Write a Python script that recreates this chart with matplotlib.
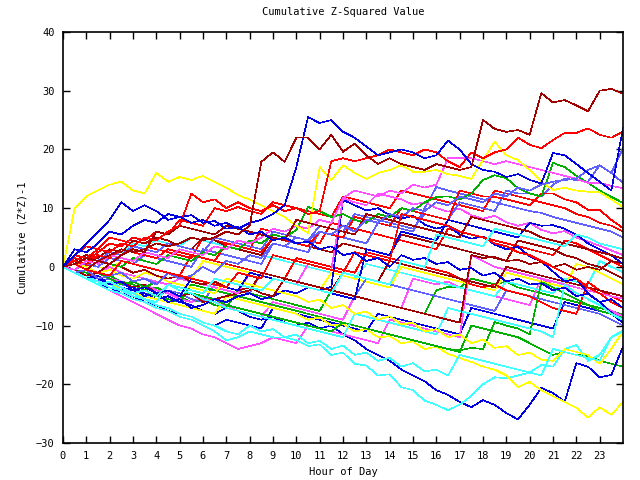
import numpy as np
import matplotlib
matplotlib.use("Agg")
import matplotlib.pyplot as plt

# colours (gnuplot-like palette)
RED = "#ff0000"; DRED = "#a00000"; GRN = "#00b000"; BLU = "#0000e0"
SLB = "#6060ff"; MAG = "#ff50ff"; CYN = "#40ffff"; YEL = "#ffff00"

# each series: cumulative value sampled every half hour, hour 0 .. 24
A = [0,0.5,1.5,1,2,3,2.5,3,4,3.5,4,5,4.5,5,6,5.5,7,17.9,19.5,17.9,22,22,20,22.5,19.6,21,19,17.5,18.5,17.5,17,16.5,17.5,17,16.5,17,25,23.5,23,23.3,22.5,29.6,28,28.4,27.5,26.5,30,30.3,29.5]
B = [0,2,4,6,8,11,9.5,10.5,9.5,8,8.5,7.5,8,7,7.5,6.5,7.5,8,9,10.5,17,25.5,24.5,25,23,22,20.5,19,19.5,20,19.5,18.5,19,21.5,20,17.5,16.5,16.2,15.3,15.8,14.8,14.2,19.4,19,17.5,16,14.5,13,23.6]
D = [0,2,1.5,3,2.5,4,3.5,5,4.5,6,7,12.5,11,11.5,10,11,10,9.5,10.5,9.5,10,9,9.5,18,18.5,18,18.5,19,20,19.5,19,20,19.5,18,17,19.5,18.5,19.5,20,22,20.8,20.2,21.6,22.8,22.8,23.6,22.5,22,23]
Y1 = [0,10,12,13,14,14.5,13,12.5,16,14.5,15.3,14.8,15.5,14.5,13.5,12.2,11.5,10.5,9.5,8.5,7,5.8,17,14.8,17.3,16,15,16,16.5,17.3,16.2,16.2,16.5,15.8,15.5,15,18.2,21.3,19,18.2,16.5,14.5,13.1,13.5,13,12.8,12.7,11.5,10.2]
M1 = [0,-0.5,1,0.5,2,1.5,1,2.5,2,1.5,3,2.5,2,3.5,3,4.5,4,5,6.5,6,7,6.5,8,7.5,11.7,13,12.5,12,13,12.5,14,13.5,14,18.5,18.5,18.5,18,17.5,18,17.5,17,16.5,16,15.5,15,14.3,14.3,13.8,13.4]
G1 = [0,0.5,-0.5,1,0.5,0,1.5,1,0.5,2,1.5,1,2.5,2,3.5,3,4.5,4,5.5,5,6.3,10.2,9.5,8.5,9,8,7.5,9,8.5,10,9.5,11,11.9,12,11.5,12.5,14.8,15.6,15.1,13.4,12.5,12,17.7,17,15.5,14.3,13,11.9,10.9]
S1 = [0,-1,-0.5,-2,-1.5,-1,-2.5,-2,-3,-1,-2,-1.5,0,-1,1,0.5,2,1.5,4,3.5,5,4.5,6,5.5,7,6,8,7.5,9,8.5,10,9.5,11,10.5,12,11.5,11,12.5,12,13.5,13,14,14.5,14.8,15,16.5,17.3,16,20.2]
R3 = [0,1,0.5,2,1.5,3,2.5,2,1.5,3,2.5,2,1.5,1,4,3.5,3,2.5,5,4.5,4,3.5,6,5.5,5,8.5,8,7.5,7,10,9.5,9,8.5,8,13,12.5,12,11.9,11.5,11,10.5,12.5,12.5,11.5,11,9.7,9.7,8,6.6]
DR2 = [0,-1,-0.5,1,0.5,2,3,2.5,6,5.5,7,6.5,6,5.5,7,6.5,6,5.5,5,4.5,8,7.5,7,6.5,6,5.5,9,8.5,8,7.5,7,6.5,6,5.5,5,8.5,8,7.5,7,6.5,6,5,4.5,4,3.5,3,2.5,2,1.4]
DR3 = [0,1,2,1.5,3,2.5,4.5,4,5,4.5,3.5,3,5,4.5,3.5,3,2.5,2,5,4.5,4,3.5,3,2.5,4,3.5,3,2.5,2,5.5,5,4.5,4,3.5,3,2.5,2,1.5,1,4.5,4,3.5,3,2,1.5,0.5,0,-1,-2]
DR4 = [0,-1,-2,-1.5,-3,-2.5,-3.5,-3,-4.5,-4,-5,-4.5,-6,-5.5,-5,-4.5,-4,-1,-1.5,-2,-2.5,-3,-3.5,-4,-1,-1.5,-2,-2.5,1,0.5,0,-0.5,-1,-1.5,-2,-2.5,-3,-3.5,0,-0.5,-1,-1.5,-2,-2.5,-3,-3.5,-4,-4.5,-5]
R4 = [0,2,3.5,3,5,4.5,4,3.5,3,2.5,2,1.5,5,4.5,4,3.5,3,6.5,6,5.5,5,4.5,4,7.5,7,6.5,6,5.5,5,4.5,4,3.5,3,6.5,6,5.5,5,4.5,4,3.5,3,2.5,2,4.5,4,3,2,1,0]
R5 = [0,1,0,2,1.5,1,0.5,0,-0.5,-1,-1.5,2,1.5,1,0.5,0,-0.5,-1,-1.5,-2,1.5,1,0.5,0,-0.5,-1,2.5,2,1.5,1,0.5,0,-0.5,-1,-2,-3,-3.5,-3,-4,-4.5,-5,-6,-7,-7.5,-8,-2.6,-4,-5,-6]
BL2 = [0,-1,-2,-1.5,-3,-2.5,-4,-3.5,-4.5,-4,-5,-2,-2.5,-3,-3.5,-4,-1,-1.5,-2,-2.5,-3,-3.5,-4,-4.5,-5,-5.5,3,2.5,2,6,5.5,5,4.5,8,7.5,7,6.5,6,5.5,5,7.5,7,7.1,6.5,5.5,4,3,2,0.5]
BL3 = [0,-1,-2,-1.5,-3,-4,-3.5,-5,-4.5,-6,-5.5,-7,-6.5,-5.5,-6,-5,-4.5,-5.5,-5,-4,-4.5,-3.5,-4,-3.4,11.4,10.5,9.6,10,8.8,8.2,8.7,7.2,6.5,7,5.5,4.8,5.2,3.8,3,3.4,1.8,0.9,-0.8,-2.5,-2,-4.5,-6,-7.8,-9.6]
CY2 = [0,-1,-2,-3,-2.5,-3.5,-4.5,-4,-5,-3,-3.5,-4,-4.5,-2,-2.5,-3,-3.5,-4,-2,-2.5,-3,-3.5,-4,-4.5,-1,-1.5,-2,-2.5,-3,1,0.5,0,5.5,5,4.5,4,3.5,6.5,6,5.5,5,4.5,4,3.5,5.5,5,4,3.5,3]
CY3 = [0,1,2,1.5,3,2.5,4,3.5,4.5,4,3.5,5,4.5,4,3.5,3,2.5,2,1.5,1,0.5,0,-0.5,-1,-1.5,-2,0.5,0,-0.5,-1,-1.5,-2,-2.5,-3,-3.5,-4,-4.5,-5,-2.5,-3,-3.5,-4,-4.5,-2,-2.5,-3,1,0,-0.9]
CY4 = [0,-1,-1.5,-2.5,-3,-4,-4.5,-5.5,-6,-3,-4,-4.5,-5.5,-6,-7,-7.5,-8,-8.5,-9,-9.5,-10,-10.5,-11,-11.5,-12,-8,-8.5,-9,-9.5,-10,-10.5,-11,-11.5,-7,-7.5,-8,-8.5,-9,-9.5,-10,-10.5,-11,-12,-3,-4.5,-5.5,-6.5,-8,-9]
MG2 = [0,-1,-2,-3,-4,-5,-6,-7,-8,-9,-10,-10.5,-11.5,-12,-13,-14,-13.5,-13,-12,-12.5,-13,-10,-10.5,-11,-11.5,-12,-12.5,-13,-9,-9.5,-10,-10.5,-11,-11.5,-12,2,1,0,-0.5,-1,-1.5,-2,-2.5,-3,-3.5,-4,-4.5,-5,-5.4]
MG3 = [0,0.5,-0.5,-1,0,-1,-1.5,-2,-2.5,-3,-2,-2.5,-3,-3.5,-4,-4.5,-1,-1.5,-2,-2.5,-3,0.5,0,-0.5,11.7,11,10.5,12.5,12,11.5,10.6,11,10,9.4,9.9,8.8,8.2,8.7,7.6,7,7.5,6.3,5.7,6.1,5,4.3,3.6,2.8,2]
MG4 = [0,-0.5,-1.5,-1,-2,-2.5,-3.5,-3,-4,-4.5,-5.5,-6,-5,-6,-6.5,-7.5,-8,-8.5,-6,-6.5,-7,-7.5,-8,-8.5,-9,-5,-5.5,-6,-6.5,-7,-2,-2.5,-3,-2.5,-3.5,-4,-4.5,-5,-5.5,-6,-6.5,-2,-3,-3.5,-4.5,-5.5,-6.5,-7.5,-8.5]
GR3 = [0,-0.5,-1,-2,-1.5,-2.5,-3,-4,-3.5,-4.5,-5,-6,-5.5,-6.5,-7,-4,-4.5,-5,-5.5,-6,-6.5,-7,-7.5,-4,-4.5,-5,-5.5,-6,-6.5,-7,-7.5,-8,-4,-3.4,-3.5,-2,-2.5,-3,-2.5,-3.5,-4,-4.5,-5,-5.5,-6,-6.5,-7,-7.5,-8.2]
GR4 = [0,-0.5,-1.5,-1,-2,-3,-2.5,-3.5,-2.5,-3,-4,-4.5,-5,-5.5,-6.5,-7,-7.5,-8,-8.5,-9,-9.5,-10,-10.5,-11,-9.5,-10,-10.5,-11,-11.5,-12,-12.5,-13,-13.5,-14,-14.2,-13.8,-14,-9.4,-10,-10.5,-11.5,-2.6,-3.5,-4.5,-5.5,-6.5,-7.5,-8,-8.8]
GBOT = [0,-0.5,-1,-2,-3,-3.5,-4,-4.5,-5,-5.5,-6,-3,-3.5,-4,-4.5,-5,-5.5,-6,-6.5,-7,-7.5,-8,-8.5,-9,-9.5,-10,-10.5,-11,-11.5,-12,-12.5,-13,-13.5,-14,-14.5,-10,-10.5,-11,-11.5,-12,-13,-14,-15,-14.5,-15,-15.2,-16,-16.5,-17]
YBOT = [0,-1,-1.5,-2.5,-3,-3.5,-4.5,-5,-5.5,-6,-6.5,-7,-7.5,-8,-5,-5.5,-6,-6.5,-7,-7.5,-8,-9,-8.6,-10,-9.7,-11,-10.6,-12,-11.8,-13,-12.7,-14,-13.6,-14.8,-15.5,-16.2,-17,-17.5,-18.5,-20.5,-19.6,-21,-22,-23,-24,-25.7,-23.9,-25.2,-23]
Y3 = [0,0.5,0,-1,-0.5,-1.5,-2,-1,-1.5,-2.5,-3,-3.5,-4,-4.5,-2,-2.5,-3,-3.5,-4,-4.5,-5,-6,-5.6,-7,-6.5,-8,-7.6,-9,-8.4,-9.8,-9.5,-11,-10.6,-12,-11.5,-13,-12.4,-13.8,-13.5,-15,-14.6,-15.8,-16,-14,-14.5,-15,-16.5,-14,-11]
Y4 = [0,1,0.5,0,-0.5,1,0.5,0,-0.5,-1,-1.5,-2,1,0.5,0,-0.5,-1,-1.5,-2,-2.5,-3,-3.5,-4,-1,-1.5,-2,-2.5,-3,-3.5,0,-0.5,-1,-1.5,-2,-2.5,-3,-3.5,-4,-1,-1.5,-2,-2.5,-3,-3.5,0.5,0,-1,-2,-3]
BBOT = [0,-1,-1.5,-2,-3,-3.5,-4,-4.5,-5.5,-5,-6,-6.5,-7.5,-8,-7,-7.5,-8.5,-9,-8.5,-9.5,-10,-9.5,-10.5,-10,-11.5,-12.5,-14,-15,-16,-17.5,-18.5,-19.5,-21,-21.8,-23,-23.9,-22.7,-23.5,-24.9,-26,-23.5,-20.6,-21.5,-23,-16.4,-17,-18.8,-18.4,-13.6]
C1 = [0,-1,-2,-3,-4,-4.5,-5.5,-6,-7,-7.5,-8.5,-9,-10,-11,-12.5,-12,-11,-11.5,-12,-12,-12.5,-13.5,-13.2,-15,-14.6,-16.5,-16.8,-18.5,-18.3,-20.5,-21,-22.8,-23.5,-24.4,-23.5,-22,-20,-18.8,-19,-18.5,-18,-16.7,-17,-14,-13.3,-16,-15,-12,-10.8]
C6 = [0,-1,-2,-2.5,-3.5,-4,-5,-5.5,-6.5,-7,-8,-8.5,-9.5,-10,-11,-11.5,-10,-11,-10.6,-12,-11.5,-13,-12.6,-14,-13.4,-15,-14.6,-16,-15.5,-17,-16.4,-17.8,-17.5,-18.5,-15,-15.5,-16,-16.5,-17,-17.5,-18,-18.5,-14,-14.5,-15,-15.5,-16,-12,-11]
R6 = [0,1.5,1,2.5,4,3.5,5,4.5,6,5.5,8,7.5,7,10,9.5,10.2,9.5,9,11,10.5,10,9.5,9,8.5,12,11.5,11,10.5,10,13,12.5,12,11.5,11,10.5,10,9.5,13,12.5,12,11.5,11,10.5,10,9,8.5,7.5,7,6]
SL2 = [0,-0.5,0.5,0,1.5,1,0.5,2,1.5,1,0.5,0,3,2.5,2,1.5,1,0.5,4,3.5,3,2.5,6,5.5,5,4.5,4,7.5,7,6.5,6,10,13.6,13,12.5,12,11.5,11,10.5,10,9.5,9.2,8.5,8,7.5,7,6.5,6,5]
SL3 = [0,-1,-1.5,-2.5,-2,-3,-3.5,-4.5,-5,-4,-4.5,-5.5,-6,-3,-3.5,-4,-4.5,-1,-1.5,-2,-2.5,-3,-3.5,-4,-4.5,-5,-2,-2.5,-3,-3.5,-4,-4.5,-5,-5.5,-6,-6.5,-7,-7.5,-4,-4.5,-5,-5.5,-6,-6.5,-7,-7.5,-8,-9,-10]
SL4 = [0,0.5,1.5,1,2.5,2,3.5,3,2.5,4,3.5,3,2.5,5,4.5,4,3.5,3,6,5.5,5,4.5,7,6.5,6,9,8.5,8,7.5,7,6.5,9,8.5,8,11,10.5,10,9.5,13,12.5,12.5,12,14,15,14.8,14.5,17.3,16,14.3]
BL4 = [0,-1,-2,-3,-3.5,-4.5,-5,-6,-6.5,-7.5,-8,-8.5,-9.5,-10,-9,-9.5,-10,-10.5,-7,-7.5,-8,-8.5,-9,-9.5,-10,-10.5,-11,-8,-8.5,-9,-9.5,-10,-10.5,-11,-11.5,-7,-7.5,-8,-8.5,-9,-9.5,-10,-10.5,-6,-6.5,-7,-7.5,-8,-9.5]
BL5 = [0,3,2.5,4,6,5.5,7,8,7.5,9,8.5,8.8,7.5,7.8,6.5,6.8,5.5,6,4.5,5,4,4.3,3,3.5,2,2.4,1,1.5,0,2,1.2,1.5,0.5,0.8,-0.5,-0.2,-1.5,-1,-2.5,-2,-3,-2.8,-4,-3.5,-5,-4.6,-6,-5.5,-7]
DR5 = [0,-0.5,-1.5,-1,0.5,0,-1,-0.5,-1.5,-2,-1.5,-2.5,-3,-2.5,-3.5,-4,-3.5,-4.5,-5,-2,-2.5,-3,-3.5,-4,-4.5,-5,-5.5,-6,-6.5,-7,-7.5,-8,-8.5,-9,-9.5,2,1.5,1.7,1,1.2,0.5,0.8,0,0.5,-0.5,0,-0.5,1,0.6]
R7 = [0,0.5,-0.5,-1,-1.5,1,0.5,0,-0.5,-1,-1.5,-2,-2.5,-3,-3.5,-1,-1.5,-2,2,1.5,1,0.5,0,-0.5,-1,2.5,2,1.5,1,9,8.5,8,7.5,7,6,5.5,5,4,3.5,2.5,2,1,0,-1,-2,-3.5,-4.5,-6,-7]

series = [
    (R4, RED), (GR3, GRN), (BL4, BLU), (MG4, MAG), (CY3, CYN), (Y4, YEL), (DR3, DRED), (SL3, SLB),
    (R5, RED), (GBOT, GRN), (BBOT, BLU), (MG2, MAG), (C1, CYN), (YBOT, YEL), (DR4, DRED), (SL2, SLB),
    (R6, RED), (GR4, GRN), (BL3, BLU), (MG3, MAG), (CY4, CYN), (Y3, YEL), (DR5, DRED), (SL4, SLB),
    (R3, RED), (G1, GRN), (BL2, BLU), (M1, MAG), (C6, CYN), (Y1, YEL), (DR2, DRED), (S1, SLB),
    (R7, RED), (BL5, BLU), (CY2, CYN), (D, RED), (B, BLU), (A, DRED),
]

x_ticks = list(range(0, 24))
y_ticks = [-30, -20, -10, 0, 10, 20, 30, 40]

plt.rcParams['font.family'] = ['DejaVu Sans Mono']
fig = plt.figure(figsize=(6.4, 4.8), dpi=100)
ax = fig.add_axes([63/640, 37/480, 560/640, 411/480])

for vals, col in series:
    xs = np.arange(len(vals)) * 0.5
    ax.plot(xs, vals, color=col, lw=0.45, antialiased=False)

ax.set_xlim(0, 24)
ax.set_ylim(-30, 40)
ax.set_xticks(x_ticks)
ax.set_yticks(y_ticks)
ax.tick_params(direction='in', length=5, width=1, top=True, right=True,
               labelsize=7.5, pad=6)
for s in ax.spines.values():
    s.set_linewidth(1.2)
ax.set_title("Cumulative Z-Squared Value", fontsize=7.5, pad=12)
ax.set_xlabel("Hour of Day", fontsize=7.5, labelpad=4)
ax.set_ylabel("Cumulative (Z*Z)-1", fontsize=7.5, labelpad=6)

fig.savefig("out.png", dpi=100)
